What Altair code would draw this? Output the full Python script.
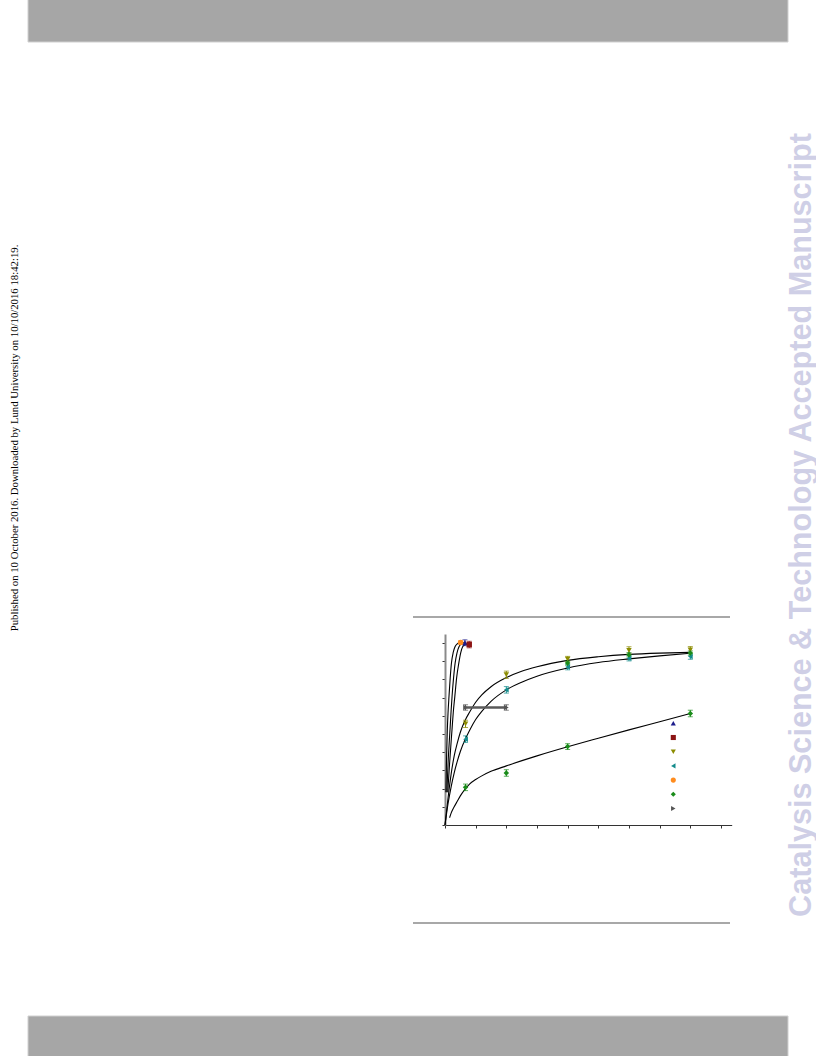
import altair as alt
import pandas as pd

# ---- measured points (x: time, y: conversion %) ----
order = ["blue", "red", "olive", "teal", "orange", "green", "gray"]
colors = ["#1c1c8c", "#8c1414", "#8c8c00", "#148c8c", "#ff8c1e", "#1a8c1a", "#555555"]
shapes = ["triangle-up", "square", "triangle-down", "triangle-left", "circle", "diamond", "triangle-right"]

blue_x = [6.5]
blue_y = [100.2]
blue_err = [1.6]

red_x = [7.9]
red_y = [99.2]
red_err = [1.8]

olive_x = [6.7, 20, 40, 60, 80]
olive_y = [55.6, 82.6, 91.2, 96.0, 96.3]
olive_err = [2.0, 2.0, 1.5, 2.0, 1.8]

teal_x = [6.7, 20, 40, 60, 80]
teal_y = [47.2, 74.3, 86.8, 91.7, 92.6]
teal_err = [1.8, 1.8, 1.5, 1.5, 1.5]

orange_x = [5.1]
orange_y = [100.3]
orange_err = [1.0]

green_x = [6.7, 20, 40, 80, 40, 60, 80]
green_y = [20.7, 28.6, 43.1, 61.3, 89.0, 93.6, 94.5]
green_err = [1.8, 1.8, 1.6, 1.8, 1.2, 1.2, 1.2]

gray_x = [6.7, 20]
gray_y = [64.6, 64.6]
gray_err = [1.5, 1.5]

# ---- fitted curves ----
fit1_x = [0.3, 0.5, 0.75, 1.0, 1.3, 1.7, 2.1, 2.7, 3.3, 4.0, 4.9]
fit1_y = [18, 36, 52, 62, 70.6, 81, 89, 95, 98.1, 99.6, 100.3]
fit2_x = [0.6, 1.0, 1.63, 2.0, 2.3, 2.8, 3.3, 3.9, 4.6, 5.4, 6.3]
fit2_y = [18, 34, 52.3, 63, 70.6, 81, 89, 94.5, 98.1, 99.6, 100.3]
fit3_x = [0.9, 1.5, 2.28, 2.7, 3.2, 3.8, 4.5, 5.1, 5.8, 6.7, 7.6]
fit3_y = [18, 34, 52.3, 62, 70.6, 81, 89, 94.5, 98.1, 99.3, 99.6]
fit4_x = [0, 1, 2, 3, 4, 5, 6.7, 8, 10, 12, 15, 20, 25, 30, 40, 50, 60, 70, 80]
fit4_y = [0, 15, 28, 38, 45, 51, 58, 62, 67.5, 71.5, 76, 81, 84.5, 87, 90.5, 92.5, 93.8, 94.5, 94.9]
fit5_x = [0, 1, 2, 3, 4, 5, 6.7, 8, 10, 12, 15, 20, 25, 30, 40, 50, 60, 70, 80]
fit5_y = [0, 11.8, 21, 28.7, 35, 40.4, 47.5, 52, 58, 62.5, 68, 74.3, 78.5, 81.8, 86.3, 89.3, 91.3, 93.0, 94.4]
fit6_x = [1.5, 2, 3, 4, 5, 6.7, 8, 10, 12, 15, 20, 30, 40, 50, 60, 70, 80]
fit6_y = [4, 6.5, 10, 13, 16, 20, 22.5, 25, 27, 29.5, 32.5, 38, 43, 47.7, 52.3, 56.8, 61.3]

page_top_text = "Published on 10 October 2016. Downloaded by Lund University on 10/10/2016 18:42:19."
watermark = "Catalysis Science & Technology Accepted Manuscript"

# ---- tables ----
series = {
    "blue": (blue_x, blue_y, blue_err),
    "red": (red_x, red_y, red_err),
    "olive": (olive_x, olive_y, olive_err),
    "teal": (teal_x, teal_y, teal_err),
    "orange": (orange_x, orange_y, orange_err),
    "green": (green_x, green_y, green_err),
    "gray": (gray_x, gray_y, gray_err),
}
rows = []
for name, (xs, ys, es) in series.items():
    for x, y, e in zip(xs, ys, es):
        rows.append({"series": name, "x": x, "y": y, "err": e})
pts = pd.DataFrame(rows)

fits = [(fit1_x, fit1_y), (fit2_x, fit2_y), (fit3_x, fit3_y),
        (fit4_x, fit4_y), (fit5_x, fit5_y), (fit6_x, fit6_y)]
frows = []
for i, (xs, ys) in enumerate(fits):
    for x, y in zip(xs, ys):
        frows.append({"curve": i, "x": x, "y": y})
curves = pd.DataFrame(frows)

one = pd.DataFrame({"k": [0]})

xscale = alt.Scale(domain=[0, 93.5], nice=False)
yscale = alt.Scale(domain=[0, 105], nice=False)
xaxis = alt.Axis(values=list(range(0, 100, 10)), labels=False, grid=False, ticks=True,
                 tickSize=3, tickColor="#333333", domainColor="#333333", domainWidth=1)
yaxis = alt.Axis(values=list(range(0, 110, 10)), labels=False, grid=False, ticks=True,
                 tickSize=3, tickColor="#333333", domainColor="#8a8a8a", domainWidth=2)
X = alt.X("x:Q", scale=xscale, axis=xaxis, title=None)
Y = alt.Y("y:Q", scale=yscale, axis=yaxis, title=None)

legend = alt.Legend(orient="none", legendX=223.3, legendY=84.3, title=None,
                    labelExpr="''", symbolSize=26, rowPadding=4.2, padding=0,
                    symbolStrokeWidth=0, symbolOpacity=1)
color = alt.Color("series:N", scale=alt.Scale(domain=order, range=colors), legend=legend)
shape = alt.Shape("series:N", scale=alt.Scale(domain=order, range=shapes), legend=legend)

curve_layer = alt.Chart(curves).mark_line(color="black", strokeWidth=1.1, interpolate="monotone").encode(
    x=X, y=Y, detail="curve:N")

gray_line = alt.Chart(pts[pts.series == "gray"]).mark_line(color="#5a5a5a", strokeWidth=2.5).encode(x=X, y=Y)

base = alt.Chart(pts).transform_calculate(lo="datum.y - datum.err", hi="datum.y + datum.err")
Ylo = alt.Y("lo:Q", scale=yscale, axis=yaxis, title=None)
Yhi = alt.Y("hi:Q", scale=yscale, axis=yaxis, title=None)
err_rule = base.mark_rule(strokeWidth=1).encode(x=X, y=Ylo, y2="hi:Q", color=color)
cap_lo = base.mark_tick(orient="horizontal", size=5, thickness=1).encode(x=X, y=Ylo, color=color)
cap_hi = base.mark_tick(orient="horizontal", size=5, thickness=1).encode(x=X, y=Yhi, color=color)

points = alt.Chart(pts).mark_point(filled=True, size=30, opacity=1).encode(
    x=X, y=Y, color=color, shape=shape)

# ---- page furniture (pixel positions relative to the plot origin) ----
top_bar = alt.Chart(one).mark_rect(color="#a6a6a6", stroke="#d0d0d0", strokeWidth=1).encode(
    x=alt.value(-417), x2=alt.value(343), y=alt.value(-640), y2=alt.value(-592))
bottom_bar = alt.Chart(one).mark_rect(color="#a6a6a6", stroke="#d0d0d0", strokeWidth=1).encode(
    x=alt.value(-417), x2=alt.value(343), y=alt.value(382), y2=alt.value(430))
rule_top = alt.Chart(one).mark_rule(color="#a8a8a8", strokeWidth=2).encode(
    x=alt.value(-32), x2=alt.value(285), y=alt.value(-17))
rule_bottom = alt.Chart(one).mark_rule(color="#a8a8a8", strokeWidth=2).encode(
    x=alt.value(-32), x2=alt.value(285), y=alt.value(289))
mark_text = alt.Chart(one).mark_text(text=watermark, angle=270, align="center", baseline="alphabetic",
                                     font="Liberation Sans", fontWeight="bold", fontSize=30.6,
                                     color="#cfcfe6").encode(x=alt.value(365.5), y=alt.value(-109))
side_text = alt.Chart(one).mark_text(text=page_top_text, angle=270, align="center", baseline="alphabetic",
                                     font="Liberation Serif", fontSize=10.75,
                                     color="#000000").encode(x=alt.value(-427.5), y=alt.value(-196))

chart = alt.layer(
    top_bar, bottom_bar, rule_top, rule_bottom, mark_text, side_text,
    curve_layer, gray_line, err_rule, cap_lo, cap_hi, points
).properties(
    width=286.7, height=191,
    padding={"left": 445, "top": 634, "right": 84.3, "bottom": 231},
    autosize=alt.AutoSizeParams(type="none"),
    background="white",
).configure_view(stroke=None)

chart.save("out.html", embed_options={"renderer": "svg", "actions": False})
